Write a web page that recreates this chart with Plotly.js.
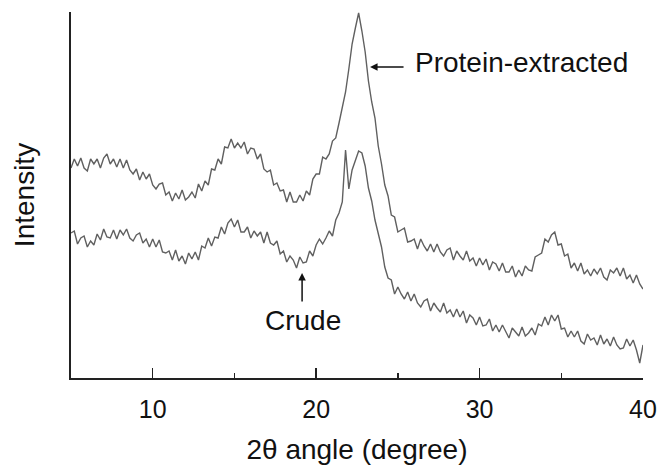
<!DOCTYPE html>
<html>
<head>
<meta charset="utf-8">
<script src="https://cdn.plot.ly/plotly-3.0.1.min.js"></script>
<style>html,body{margin:0;padding:0;background:#fff;}#chart{width:660px;height:465px;}</style>
</head>
<body>
<div id="chart"></div>
<script>
const twoTheta = [5,5.2,5.4,5.6,5.8,6,6.2,6.4,6.6,6.8,7,7.2,7.4,7.6,7.8,8,8.2,8.4,8.6,8.8,9,9.2,9.4,9.6,9.8,10,10.2,10.4,10.6,10.8,11,11.2,11.4,11.6,11.8,12,12.2,12.4,12.6,12.8,13,13.2,13.4,13.6,13.8,14,14.2,14.4,14.6,14.8,15,15.2,15.4,15.6,15.8,16,16.2,16.4,16.6,16.8,17,17.2,17.4,17.6,17.8,18,18.2,18.4,18.6,18.8,19,19.2,19.4,19.6,19.8,20,20.2,20.4,20.6,20.8,21,21.2,21.4,21.6,21.8,22,22.2,22.4,22.6,22.8,23,23.2,23.4,23.6,23.8,24,24.2,24.4,24.6,24.8,25,25.2,25.4,25.6,25.8,26,26.2,26.4,26.6,26.8,27,27.2,27.4,27.6,27.8,28,28.2,28.4,28.6,28.8,29,29.2,29.4,29.6,29.8,30,30.2,30.4,30.6,30.8,31,31.2,31.4,31.6,31.8,32,32.2,32.4,32.6,32.8,33,33.2,33.4,33.6,33.8,34,34.2,34.4,34.6,34.8,35,35.2,35.4,35.6,35.8,36,36.2,36.4,36.6,36.8,37,37.2,37.4,37.6,37.8,38,38.2,38.4,38.6,38.8,39,39.2,39.4,39.6,39.8,40];

const proteinExtracted = [
210,219,212,220,210,207,219,214,219,210,220,224,214,219,211,219,210,218,208,204,
209,198,206,199,204,193,189,194,195,183,186,177,185,179,188,178,181,186,180,194,
187,197,193,209,208,219,214,231,230,239,230,235,230,236,224,230,229,219,224,209,
206,208,193,195,187,188,176,186,176,176,183,177,187,183,199,204,204,221,219,224,
237,240,255,272,286,309,334,350,365,347,326,297,276,260,232,214,193,182,163,161,
146,148,150,136,137,139,129,139,132,127,134,126,134,126,122,128,130,118,127,122,
118,127,117,120,112,120,113,119,108,116,114,107,115,106,106,112,101,108,102,112,
108,107,121,123,125,139,136,143,146,133,134,122,124,110,115,107,115,104,108,102,
109,104,110,101,98,108,105,110,102,110,99,103,95,103,94,89];

const crude = [
145,147,134,140,142,131,137,133,144,138,149,141,140,148,139,148,143,149,140,137,
143,145,135,139,131,139,131,138,126,125,127,118,128,117,122,114,125,119,126,118,
132,130,140,132,141,140,151,144,155,159,151,158,146,146,151,140,147,142,146,135,
146,135,133,137,124,127,116,122,118,110,121,115,116,127,122,133,139,134,140,147,
142,158,165,176,228,189,208,218,227,225,212,190,177,158,145,131,111,100,98,84,
91,84,79,86,77,84,75,71,77,79,67,75,70,66,75,65,68,61,69,61,
67,55,63,60,53,61,52,53,59,47,53,46,53,46,40,50,46,42,51,42,
45,50,43,54,52,61,53,63,57,63,49,50,41,47,41,47,37,34,44,38,
40,33,43,34,39,32,41,33,29,30,39,32,38,28,15,33];

const majorTicks = [10, 20, 30, 40];
const minorTicks = [15, 25, 35];

const FONT = 'Liberation Sans, Arial, Helvetica, sans-serif';
const lineStyle = {color: '#606060', width: 1.4};

const traces = [
  {x: twoTheta, y: proteinExtracted, type: 'scatter', mode: 'lines', name: 'Protein-extracted', line: lineStyle, hoverinfo: 'x+y'},
  {x: twoTheta, y: crude, type: 'scatter', mode: 'lines', name: 'Crude', line: lineStyle, hoverinfo: 'x+y'}
];

const layout = {
  width: 660, height: 465,
  margin: {l: 71, r: 17, t: 12, b: 87, pad: 0},
  paper_bgcolor: '#fff', plot_bgcolor: '#fff',
  showlegend: false,
  font: {family: FONT, color: '#111', size: 25},
  xaxis: {
    range: [5, 40], showgrid: false, zeroline: false,
    showline: true, linecolor: '#222', linewidth: 1.6,
    tickmode: 'array', tickvals: majorTicks, ticktext: majorTicks.map(String),
    ticks: 'inside', ticklen: 10, tickwidth: 1.4, tickcolor: '#222',
    ticklabelstandoff: 8,
    tickfont: {family: FONT, size: 25, color: '#111'},
    minor: {tickmode: 'array', tickvals: minorTicks, ticks: 'inside', ticklen: 5, tickwidth: 1.4, tickcolor: '#222', showgrid: false},
    title: {text: '2θ angle (degree)', font: {family: FONT, size: 28, color: '#111'}, standoff: 21},
    automargin: false
  },
  yaxis: {
    range: [0, 366], showgrid: false, zeroline: false,
    showline: true, linecolor: '#222', linewidth: 1.6,
    ticks: '', showticklabels: false,
    title: {text: 'Intensity', font: {family: FONT, size: 28, color: '#111'}, standoff: 26},
    automargin: false
  },
  annotations: [
    {x: 32.54, y: 316, xref: 'x', yref: 'y', text: 'Protein-extracted', showarrow: false,
     font: {family: FONT, size: 28, color: '#111'}, xanchor: 'center', yanchor: 'middle'},
    {x: 23.3, y: 311, ax: 25.44, ay: 311, xref: 'x', yref: 'y', axref: 'x', ayref: 'y', text: '',
     showarrow: true, arrowhead: 2, arrowsize: 1, arrowwidth: 1.5, arrowcolor: '#111'},
    {x: 19.2, y: 58, xref: 'x', yref: 'y', text: 'Crude', showarrow: false,
     font: {family: FONT, size: 28, color: '#111'}, xanchor: 'center', yanchor: 'middle'},
    {x: 19.14, y: 105, ax: 19.14, ay: 75, xref: 'x', yref: 'y', axref: 'x', ayref: 'y', text: '',
     showarrow: true, arrowhead: 2, arrowsize: 1, arrowwidth: 1.5, arrowcolor: '#111'}
  ]
};

Plotly.newPlot('chart', traces, layout, {displayModeBar: false, staticPlot: true});
</script>
</body>
</html>
